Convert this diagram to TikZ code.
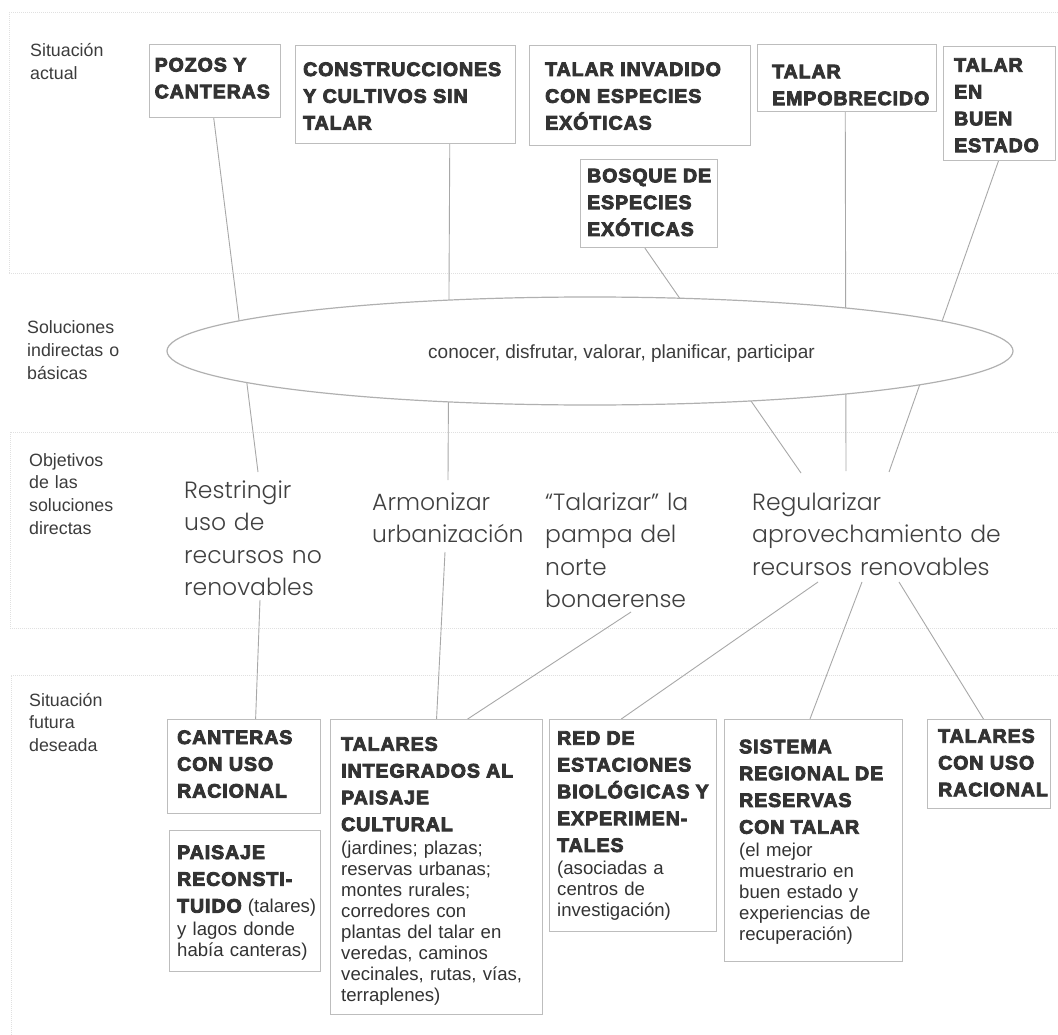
\documentclass[tikz,border=0pt]{standalone}
\usepackage{fontspec}
\setmainfont{Liberation Sans}
\newfontfamily\titlef[UprightFont={* Bold},FakeBold=4.5,LetterSpace=5]{Liberation Sans}
\IfFontExistsTF{Poppins Light}{\newfontfamily\objf{Poppins Light}}{\newfontfamily\objf{Poppins}}
\usetikzlibrary{calc,backgrounds,shapes.geometric}
\definecolor{ttxt}{HTML}{333333}
\definecolor{btxt}{HTML}{3C3C3C}
\definecolor{otxt}{HTML}{404040}
\definecolor{boxln}{HTML}{BDBDBD}
\definecolor{conln}{HTML}{A8A8A8}
\definecolor{ellln}{HTML}{B0B0B0}
\definecolor{bandln}{HTML}{E0E0E0}
\newcommand\ttlfont{\titlef\fontsize{19.5}{26.8}\selectfont}
\newcommand\bdyfont{\fontsize{18.6}{21}\selectfont}
\newcommand\bh[1]{{\titlef\fontsize{19.5}{21}\selectfont #1}}
\newcommand\labfont{\fontsize{17.8}{22.7}\selectfont}
\newcommand\objfont{\objf\fontsize{23.5}{32.5}\selectfont}
\tikzset{
 boxnode/.style={draw=boxln, line width=1.1pt, rectangle, inner sep=0pt, anchor=north west},
 textnode/.style={anchor=base west, inner sep=0pt, align=left, text width=320pt},
 ttext/.style={textnode, font=\ttlfont, text=ttxt},
 btext/.style={textnode, font=\bdyfont, text=ttxt},
 lab/.style={textnode, font=\labfont, text=btxt},
 obj/.style={textnode, font=\objfont, text=otxt},
 conn/.style={draw=conln, line width=0.9pt},
 band/.style={draw=bandln, line width=1pt, densely dotted},
}
\begin{document}
\begin{tikzpicture}[x=1pt,y=-1pt]
\useasboundingbox (0,0) rectangle (1058,1035);
% boxes
\node[boxnode, minimum width=131pt, minimum height=73pt] (pozos) at (149,44) {};
\node[boxnode, minimum width=220pt, minimum height=98pt] (constr) at (295,45) {};
\node[boxnode, minimum width=221pt, minimum height=100pt] (invad) at (529,45) {};
\node[boxnode, minimum width=179pt, minimum height=67pt] (empob) at (757,44) {};
\node[boxnode, minimum width=112pt, minimum height=114pt] (buen) at (943,46) {};
\node[boxnode, minimum width=137pt, minimum height=88pt] (bosque) at (580,159) {};
\node[boxnode, minimum width=153pt, minimum height=94pt] (canter) at (167,719) {};
\node[boxnode, minimum width=151pt, minimum height=141pt] (paisaje) at (169,830) {};
\node[boxnode, minimum width=212pt, minimum height=295pt] (talint) at (330,719) {};
\node[boxnode, minimum width=167pt, minimum height=212pt] (red) at (549,719) {};
\node[boxnode, minimum width=178pt, minimum height=242pt] (sist) at (724,719) {};
\node[boxnode, minimum width=123pt, minimum height=89pt] (tuso) at (927,719) {};
% box texts
\node[ttext] (pozosT) at (154.5,71.5) {POZOS Y\\CANTERAS};
\node[ttext] (constrT) at (303,76) {CONSTRUCCIONES\\Y CULTIVOS SIN\\TALAR};
\node[ttext] (invadT) at (545,76) {TALAR INVADIDO\\CON ESPECIES\\EXÓTICAS};
\node[ttext] (empobT) at (772,78.3) {TALAR\\EMPOBRECIDO};
\node[ttext] (buenT) at (954,71.7) {TALAR\\EN\\BUEN\\ESTADO};
\node[ttext] (bosqueT) at (587,182.3) {BOSQUE DE\\ESPECIES\\EXÓTICAS};
\node[ttext] (canterT) at (177,744) {CANTERAS\\CON USO\\RACIONAL};
\node[btext] (paisajeT) at (177,859) {\bh{PAISAJE}\\[5.8pt]\bh{RECONSTI-}\\[5.8pt]\bh{TUIDO} (talares)\\[2pt]y lagos donde\\había canteras)};
\node[btext] (talintT) at (341,750.7) {\bh{TALARES}\\[5.8pt]\bh{INTEGRADOS AL}\\[5.8pt]\bh{PAISAJE}\\[5.8pt]\bh{CULTURAL}\\[2.5pt](jardines; plazas;\\reservas urbanas;\\montes rurales;\\corredores con\\plantas del talar en\\veredas, caminos\\vecinales, rutas, vías,\\terraplenes)};
\node[btext] (redT) at (557,744.7) {\bh{RED DE}\\[5.8pt]\bh{ESTACIONES}\\[5.8pt]\bh{BIOLÓGICAS Y}\\[5.8pt]\bh{EXPERIMEN-}\\[5.8pt]\bh{TALES}\\[1.5pt](asociadas a\\centros de\\investigación)};
\node[btext] (sistT) at (739,753.3) {\bh{SISTEMA}\\[5.8pt]\bh{REGIONAL DE}\\[5.8pt]\bh{RESERVAS}\\[5.8pt]\bh{CON TALAR}\\[2pt](el mejor\\muestrario en\\buen estado y\\experiencias de\\recuperación)};
\node[ttext] (tusoT) at (938,742.7) {TALARES\\CON USO\\RACIONAL};
% row labels
\node[lab] (labA) at (30,57) {Situación\\actual};
\node[lab] (labB) at (27,334) {Soluciones\\indirectas o\\básicas};
\node[lab] (labC) at (29,466) {Objetivos\\de las\\soluciones\\directas};
\node[lab] (labD) at (29,706) {Situación\\futura\\deseada};
% ellipse
\node[ellipse, draw=ellln, line width=1.2pt, fill=white, minimum width=846pt, minimum height=108pt, inner sep=0pt] (sol) at (590,351) {};
\node[anchor=base, inner sep=0pt, font=\fontsize{19}{22}\selectfont, text=btxt] (solT) at (621.5,358) {conocer, disfrutar, valorar, planificar, participar};
% objectives
\node[obj] (restr) at (184,498) {Restringir\\uso de\\recursos no\\renovables};
\node[obj] (armon) at (372,510) {Armonizar\\urbanización};
\node[obj] (talar) at (545,510) {“Talarizar” la\\pampa del\\norte\\bonaerense};
\node[obj] (regul) at (752,510) {Regularizar\\aprovechamiento de\\recursos renovables};
\begin{pgfonlayer}{background}
\fill[white] (0,0) rectangle (1058,1035);
\draw[band] (1058,13) -- (9,13) -- (9,274) -- (1058,274);
\draw[band] (1058,432) -- (10,432) -- (10,628) -- (1058,628);
\draw[band] (1058,675) -- (11,675) -- (11,1035);
\draw[conn] ($(pozos.south west)!0.49!(pozos.south east)$) -- ($(restr.base west)+(74,-26)$);
\draw[conn] ($(restr.base west)+(76,102)$) -- ($(canter.north west)!0.575!(canter.north east)$);
\draw[conn] ($(constr.south west)!0.70!(constr.south east)$) -- ($(armon.base west)+(76,-30)$);
\draw[conn] ($(armon.base west)+(73,42)$) -- ($(talint.north west)!0.5!(talint.north east)$);
\draw[conn] ($(bosque.south west)!0.47!(bosque.south east)$) -- ($(regul.base west)+(49,-37)$);
\draw[conn] ($(empob.south west)!0.49!(empob.south east)$) -- ($(regul.base west)+(94,-39)$);
\draw[conn] ($(buen.south west)!0.49!(buen.south east)$) -- ($(regul.base west)+(137,-38)$);
\draw[conn] ($(talar.base west)+(86,102)$) -- ($(talint.north west)!0.646!(talint.north east)$);
\draw[conn] ($(regul.base west)+(66,72)$) -- ($(red.north west)!0.43!(red.north east)$);
\draw[conn] ($(regul.base west)+(110,72)$) -- ($(sist.north west)!0.48!(sist.north east)$);
\draw[conn] ($(regul.base west)+(147,72)$) -- ($(tuso.north west)!0.455!(tuso.north east)$);
\end{pgfonlayer}
\end{tikzpicture}
\end{document}
